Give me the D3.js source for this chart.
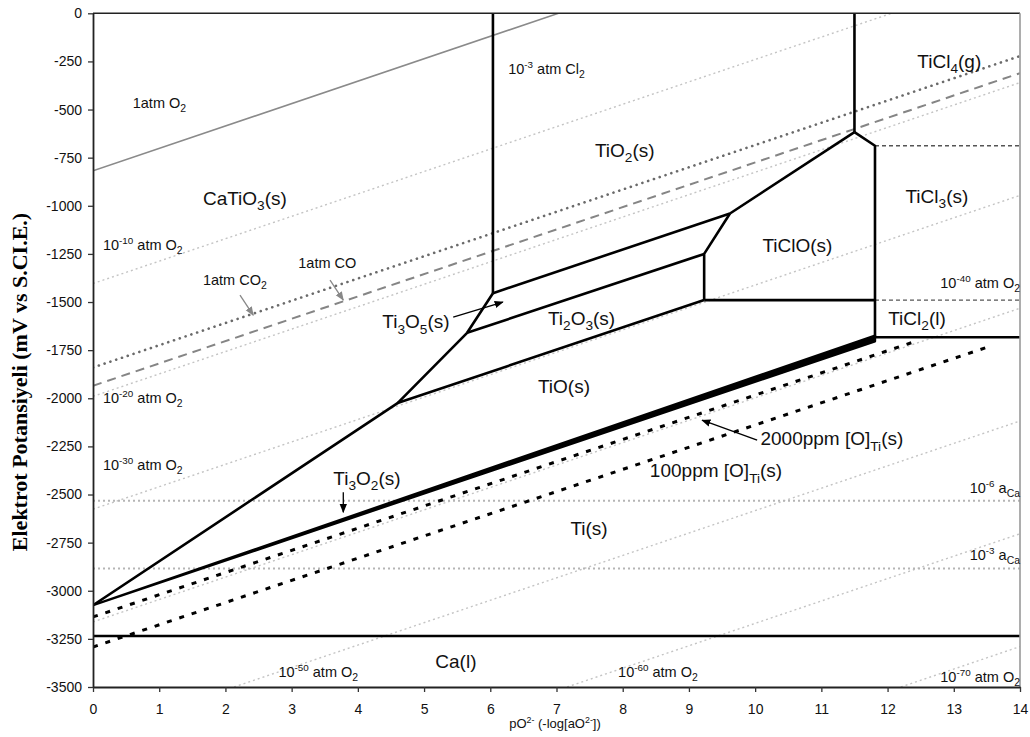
<!DOCTYPE html>
<html><head><meta charset="utf-8">
<script src="https://cdn.jsdelivr.net/npm/d3@7"></script>
<style>
html,body{margin:0;padding:0;background:#fff;}
</style></head>
<body>
<svg id="chart" width="1030" height="737" font-family="'Liberation Sans',Arial,Helvetica,sans-serif"></svg>
<script>
// ---------------- data ----------------
const xTicks = [0,1,2,3,4,5,6,7,8,9,10,11,12,13,14];
const yTicks = [0,-250,-500,-750,-1000,-1250,-1500,-1750,-2000,-2250,-2500,-2750,-3000,-3250,-3500];

// iso-pO2 lines (endpoints, pO2-, mV)
const o2OneAtm = [[0,-818],[7.03,0]];
const o2Lines = [
  [[0,-1404],[12.06,0]],
  [[0,-1990],[14,-360]],
  [[0,-2576],[14,-946]],
  [[0,-3162],[14,-1532]],
  [[2.13,-3500],[14,-2118]],
  [[7.16,-3500],[14,-2704]],
  [[12.2,-3500],[14,-3290]]
];
const co2Line = [[0,-1840],[14,-222]];
const coLine  = [[0,-1935],[14,-311]];
const aCa6 = [[0,-2533],[14,-2533]];
const aCa3 = [[0,-2885],[14,-2885]];

// phase boundaries
const boundaries = [
  [[6.04,0],[6.04,-1454]],
  [[6.04,-1454],[9.62,-1040]],
  [[9.62,-1040],[11.5,-617]],
  [[11.5,-617],[11.5,0]],
  [[11.5,-617],[11.81,-688],[11.81,-1683]],
  [[9.62,-1040],[9.23,-1250],[9.23,-1490]],
  [[9.23,-1490],[11.81,-1490]],
  [[5.65,-1660],[9.23,-1250]],
  [[4.6,-2025],[9.23,-1490]],
  [[0,-3075],[4.6,-2025],[5.65,-1660],[6.04,-1454]],
  [[11.81,-1683],[14,-1683]]
];
const thickBand = [[0,-3075],[11.81,-1674],[11.81,-1704],[0,-3075]];
const caLine = [[0,-3235],[14,-3235]];
const greyDashed = [
  [[11.81,-688],[14,-688]],
  [[11.81,-1490],[14,-1490]]
];
const ppm2000 = [[0,-3136],[12.39,-1708]];
const ppm100  = [[0,-3292],[13.52,-1733]];

// annotations: text, x, y (data units)
const bigLabels = [
  ["CaTiO_{3}(s)", 1.66, -996],
  ["TiO_{2}(s)", 7.58, -746],
  ["TiCl_{4}(g)", 12.45, -284],
  ["TiCl_{3}(s)", 12.27, -986],
  ["TiClO(s)", 10.11, -1240],
  ["TiCl_{2}(l)", 12.01, -1620],
  ["Ti_{3}O_{5}(s)", 4.37, -1636],
  ["Ti_{2}O_{3}(s)", 6.87, -1620],
  ["TiO(s)", 6.72, -1973],
  ["Ti_{3}O_{2}(s)", 3.63, -2451],
  ["2000ppm [O]_{Ti}(s)", 10.08, -2244],
  ["100ppm [O]_{Ti}(s)", 8.41, -2410],
  ["Ti(s)", 7.21, -2711],
  ["Ca(l)", 5.17, -3403]
];
const smallLabels = [
  ["1atm O_{2}", 0.60, -492, "start"],
  ["10^{-10} atm O_{2}", 0.15, -1230, "start"],
  ["1atm CO_{2}", 1.66, -1412, "start"],
  ["1atm CO", 3.10, -1324, "start"],
  ["10^{-20} atm O_{2}", 0.15, -2025, "start"],
  ["10^{-30} atm O_{2}", 0.15, -2374, "start"],
  ["10^{-3} atm Cl_{2}", 6.27, -315, "start"],
  ["10^{-40} atm O_{2}", 14, -1428, "end"],
  ["10^{-6} a_{Ca}", 14, -2493, "end"],
  ["10^{-3} a_{Ca}", 14, -2841, "end"],
  ["10^{-50} atm O_{2}", 2.80, -3450, "start"],
  ["10^{-60} atm O_{2}", 7.93, -3450, "start"],
  ["10^{-70} atm O_{2}", 14, -3475, "end"]
];
const blackArrows = [
  [[5.44,-1578],[6.19,-1500]],
  [[3.78,-2488],[3.78,-2592]],
  [[10.03,-2218],[9.2,-2114]]
];
const greyArrows = [
  [[2.22,-1464],[2.42,-1568]],
  [[3.58,-1386],[3.78,-1490]]
];

// ---------------- chart ----------------
const W = 1030, H = 737;
const m = {left:93, right:10, top:13.3, bottom:50};
const svg = d3.select("#chart");
const x = d3.scaleLinear().domain([0,14]).range([m.left, W-m.right]);
const y = d3.scaleLinear().domain([-3500,0]).range([H-m.bottom, m.top]);
const line = d3.line().x(d=>x(d[0])).y(d=>y(d[1]));

const defs = svg.append("defs");
defs.append("clipPath").attr("id","clip")
  .append("rect").attr("x",x(0)).attr("y",y(0)).attr("width",x(14)-x(0)).attr("height",y(-3500)-y(0));
function marker(id, color){
  defs.append("marker").attr("id",id).attr("viewBox","0 0 10 10").attr("refX",9).attr("refY",5)
    .attr("markerWidth",7).attr("markerHeight",7).attr("orient","auto-start-reverse")
    .append("path").attr("d","M0,1 L10,5 L0,9 Z").attr("fill",color);
}
marker("ab","#000"); marker("ag","#888");

const g = svg.append("g").attr("clip-path","url(#clip)");

// light grey iso-pO2 lines
o2Lines.forEach(l => g.append("path").attr("d",line(l)).attr("fill","none")
  .attr("stroke","#c4c4c4").attr("stroke-width",1.4).attr("stroke-dasharray","2,3"));
g.append("path").attr("d",line(o2OneAtm)).attr("fill","none").attr("stroke","#8a8a8a").attr("stroke-width",1.6);
[aCa6,aCa3].forEach(l => g.append("path").attr("d",line(l)).attr("fill","none")
  .attr("stroke","#b5b5b5").attr("stroke-width",2).attr("stroke-dasharray","2,3"));
g.append("path").attr("d",line(co2Line)).attr("fill","none").attr("stroke","#6a6a6a")
  .attr("stroke-width",2.6).attr("stroke-dasharray","0.1,6").attr("stroke-linecap","round");
g.append("path").attr("d",line(coLine)).attr("fill","none").attr("stroke","#858585")
  .attr("stroke-width",2).attr("stroke-dasharray","9,6");
greyDashed.forEach(l => g.append("path").attr("d",line(l)).attr("fill","none")
  .attr("stroke","#555").attr("stroke-width",1.4).attr("stroke-dasharray","4,3"));

// black dashed [O]Ti lines
[ppm2000, ppm100].forEach(l => g.append("path").attr("d",line(l)).attr("fill","none")
  .attr("stroke","#000").attr("stroke-width",3).attr("stroke-dasharray","5,8"));

// boundaries
boundaries.forEach(l => g.append("path").attr("d",line(l)).attr("fill","none")
  .attr("stroke","#000").attr("stroke-width",2.6).attr("stroke-linejoin","round"));
g.append("path").attr("d",line(thickBand)).attr("fill","#000").attr("stroke","#000")
  .attr("stroke-width",2.4).attr("stroke-linejoin","round");
g.append("path").attr("d",line(caLine)).attr("fill","none").attr("stroke","#000").attr("stroke-width",2.6);

// arrows
blackArrows.forEach(l => svg.append("path").attr("d",line(l)).attr("fill","none")
  .attr("stroke","#000").attr("stroke-width",1.3).attr("marker-end","url(#ab)"));
greyArrows.forEach(l => svg.append("path").attr("d",line(l)).attr("fill","none")
  .attr("stroke","#888").attr("stroke-width",1.3).attr("marker-end","url(#ag)"));

// frame
svg.append("line").attr("x1",x(0)).attr("x2",x(14)).attr("y1",y(0)).attr("y2",y(0)).attr("stroke","#222").attr("stroke-width",1.6);
svg.append("line").attr("x1",x(14)).attr("x2",x(14)).attr("y1",y(0)).attr("y2",y(-3500)).attr("stroke","#999").attr("stroke-width",1.6);

// axes
const xAxis = svg.append("g").attr("transform",`translate(0,${y(-3500)})`)
  .call(d3.axisBottom(x).tickValues(xTicks).tickFormat(d3.format("d")).tickSize(5).tickPadding(12).tickSizeOuter(0));
const yAxis = svg.append("g").attr("transform",`translate(${x(0)},0)`)
  .call(d3.axisLeft(y).tickValues(yTicks).tickFormat(d=>String(d)).tickSize(5).tickPadding(6).tickSizeOuter(0));
[xAxis,yAxis].forEach(a=>{
  a.attr("font-family","'Liberation Sans',Arial,sans-serif").attr("font-size",14);
  a.select(".domain").attr("stroke","#222").attr("stroke-width",1.8);
  a.selectAll(".tick line").attr("stroke","#333").attr("stroke-width",1.3);
  a.selectAll("text").attr("fill","#111");
});

// rich text helper
function rich(sel, str, size){
  const parts = str.split(/(\^\{[^}]*\}|_\{[^}]*\})/).filter(p=>p);
  let cur = 0;
  parts.forEach(p=>{
    let txt=p, target=0, fs=size;
    if (p.startsWith("^{")) { txt=p.slice(2,-1); target=-0.42*size; fs=size*0.68; }
    else if (p.startsWith("_{")) { txt=p.slice(2,-1); target=0.28*size; fs=size*0.72; }
    sel.append("tspan").attr("dy",target-cur).attr("font-size",fs).text(txt);
    cur = target;
  });
}
bigLabels.forEach(([t,lx,ly])=>{
  const s = svg.append("text").attr("x",x(lx)).attr("y",y(ly)).attr("font-size",19).attr("fill","#111");
  rich(s,t,19);
});
smallLabels.forEach(([t,lx,ly,anc])=>{
  const s = svg.append("text").attr("x",x(lx)).attr("y",y(ly)).attr("font-size",14.5)
    .attr("fill","#111").attr("text-anchor",anc);
  rich(s,t,14.5);
});

// axis titles
const xt = svg.append("text").attr("x",555).attr("y",728).attr("text-anchor","middle").attr("font-size",13).attr("fill","#111");
rich(xt,"pO^{2-} (-log[aO^{2-}])",13);
svg.append("text").attr("transform","translate(27,382) rotate(-90)").attr("text-anchor","middle")
  .attr("font-family","'Liberation Serif','Times New Roman',serif").attr("font-weight","bold")
  .attr("font-size",22).attr("fill","#000").text("Elektrot Potansiyeli (mV vs S.CI.E.)");
</script>
</body></html>
